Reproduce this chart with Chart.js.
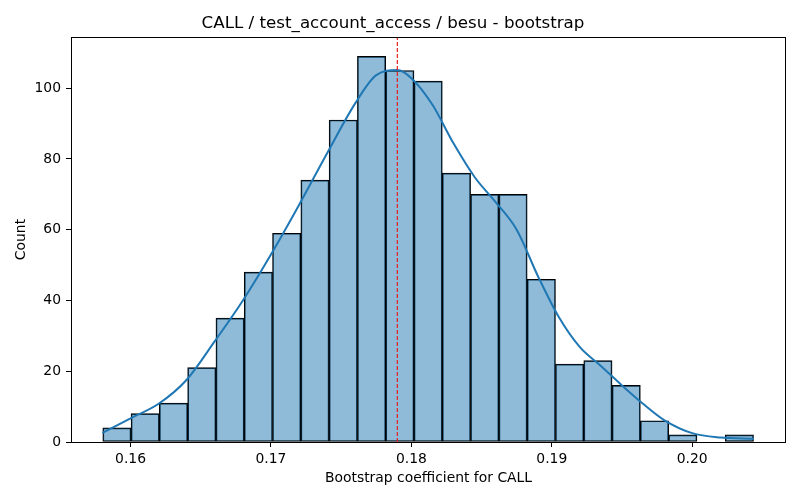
<!DOCTYPE html>
<html>
<head>
<meta charset="utf-8">
<script src="https://cdn.jsdelivr.net/npm/chart.js@4.4.0/dist/chart.umd.min.js"></script>
<style>
  html, body { margin: 0; padding: 0; background: #fff; }
  #wrap { width: 800px; height: 500px; }
</style>
</head>
<body>
<div id="wrap"><canvas id="chart" width="800" height="500"></canvas></div>
<script>
// histogram bins (edges) and counts
var binEdges = [0.15802, 0.16004, 0.16205, 0.16407, 0.16608, 0.16810, 0.17011, 0.17213,
                0.17414, 0.17616, 0.17817, 0.18019, 0.18220, 0.18422, 0.18623, 0.18825,
                0.19026, 0.19228, 0.19429, 0.19631, 0.19832, 0.20034, 0.20235, 0.20437];
var binCounts = [4, 8, 11, 21, 35, 48, 59, 74, 91, 109, 105, 102,
                 76, 70, 70, 46, 22, 23, 16, 6, 2, 0, 2];

// kde curve
var kdeX = [0.1580, 0.1600, 0.1620, 0.1640, 0.1660, 0.1680, 0.1700, 0.1720, 0.1740,
            0.1760, 0.1775, 0.1790, 0.1800, 0.1815, 0.1830, 0.1845, 0.1860, 0.1875,
            0.1890, 0.1905, 0.1920, 0.1935, 0.1950, 0.1965, 0.1980, 0.2000, 0.2020, 0.2044];
var kdeY = [2.6, 6.7, 10.8, 17.6, 28.5, 40.0, 53.0, 67.0, 81.6,
            95.7, 103.7, 105.1, 102.8, 95.3, 84.4, 74.9, 67.8, 60.0,
            47.0, 35.3, 26.8, 21.5, 16.0, 10.8, 6.2, 2.5, 1.25, 0.9];

var meanValue = 0.1790;

var xMin = 0.15576, xMax = 0.20668;
var yMin = 0, yMax = 114.45;
var xTickStep = 0.01, yTickStep = 20;

var titleText = 'CALL / test_account_access / besu - bootstrap';
var xLabel = 'Bootstrap coefficient for CALL';
var yLabel = 'Count';

var FONT = 'DejaVu Sans';

var barData = [];
for (var i = 0; i < binCounts.length; i++) {
    barData.push({x: (binEdges[i] + binEdges[i + 1]) / 2, y: binCounts[i]});
}
var kdeData = kdeX.map(function (x, i) { return {x: x, y: kdeY[i]}; });

// box round the axes like matplotlib spines
var frame = {
    id: 'frame',
    afterDatasetsDraw: function (chart) {
        var a = chart.chartArea, ctx = chart.ctx;
        ctx.save();
        ctx.strokeStyle = '#000';
        ctx.lineWidth = 1;
        ctx.strokeRect(Math.round(a.left) + 0.5, Math.round(a.top) + 0.5,
                       Math.round(a.right - a.left) - 1, Math.round(a.bottom - a.top));
        ctx.restore();
    }
};

new Chart(document.getElementById('chart'), {
    type: 'bar',
    data: {
        datasets: [{
            type: 'line',
            data: [{x: meanValue, y: yMin}, {x: meanValue, y: yMax}],
            borderColor: '#e8201a',
            borderWidth: 1.2,
            borderDash: [4, 2],
            pointRadius: 0,
            order: 1
        }, {
            type: 'line',
            data: kdeData,
            borderColor: '#1f77b4',
            borderWidth: 2,
            pointRadius: 0,
            cubicInterpolationMode: 'monotone',
            order: 2
        }, {
            type: 'bar',
            data: barData,
            backgroundColor: 'rgba(31,119,180,0.5)',
            borderColor: '#000',
            borderWidth: 1,
            borderSkipped: false,
            barPercentage: 1,
            categoryPercentage: 1,
            order: 3
        }]
    },
    options: {
        responsive: false,
        animation: false,
        layout: {padding: {left: 0, right: 14, top: 0, bottom: 0}},
        plugins: {
            legend: {display: false},
            tooltip: {enabled: false},
            title: {
                display: true,
                text: titleText,
                color: '#000',
                font: {family: FONT, size: 16.7, weight: 'normal'},
                padding: {top: 14, bottom: 3}
            }
        },
        scales: {
            x: {
                type: 'linear',
                min: xMin,
                max: xMax,
                offset: false,
                grid: {drawOnChartArea: false, drawTicks: true, tickLength: 5, color: '#000', offset: false},
                border: {display: false},
                ticks: {
                    stepSize: xTickStep,
                    includeBounds: false,
                    color: '#000',
                    padding: 4,
                    maxRotation: 0,
                    font: {family: FONT, size: 13.9},
                    callback: function (v) { return v.toFixed(2); }
                },
                title: {
                    display: true,
                    text: xLabel,
                    color: '#000',
                    font: {family: FONT, size: 13.9},
                    padding: {top: 0, bottom: 13}
                },
                afterFit: function (s) { s.height = 58; }
            },
            y: {
                type: 'linear',
                min: yMin,
                max: yMax,
                grid: {drawOnChartArea: false, drawTicks: true, tickLength: 5, color: '#000'},
                border: {display: false},
                ticks: {
                    stepSize: yTickStep,
                    includeBounds: false,
                    color: '#000',
                    padding: 5,
                    font: {family: FONT, size: 13.9}
                },
                title: {
                    display: true,
                    text: yLabel,
                    color: '#000',
                    font: {family: FONT, size: 13.9},
                    padding: {top: 13, bottom: 0}
                },
                afterFit: function (s) { s.width = 71; }
            }
        }
    },
    plugins: [frame]
});
</script>
</body>
</html>
